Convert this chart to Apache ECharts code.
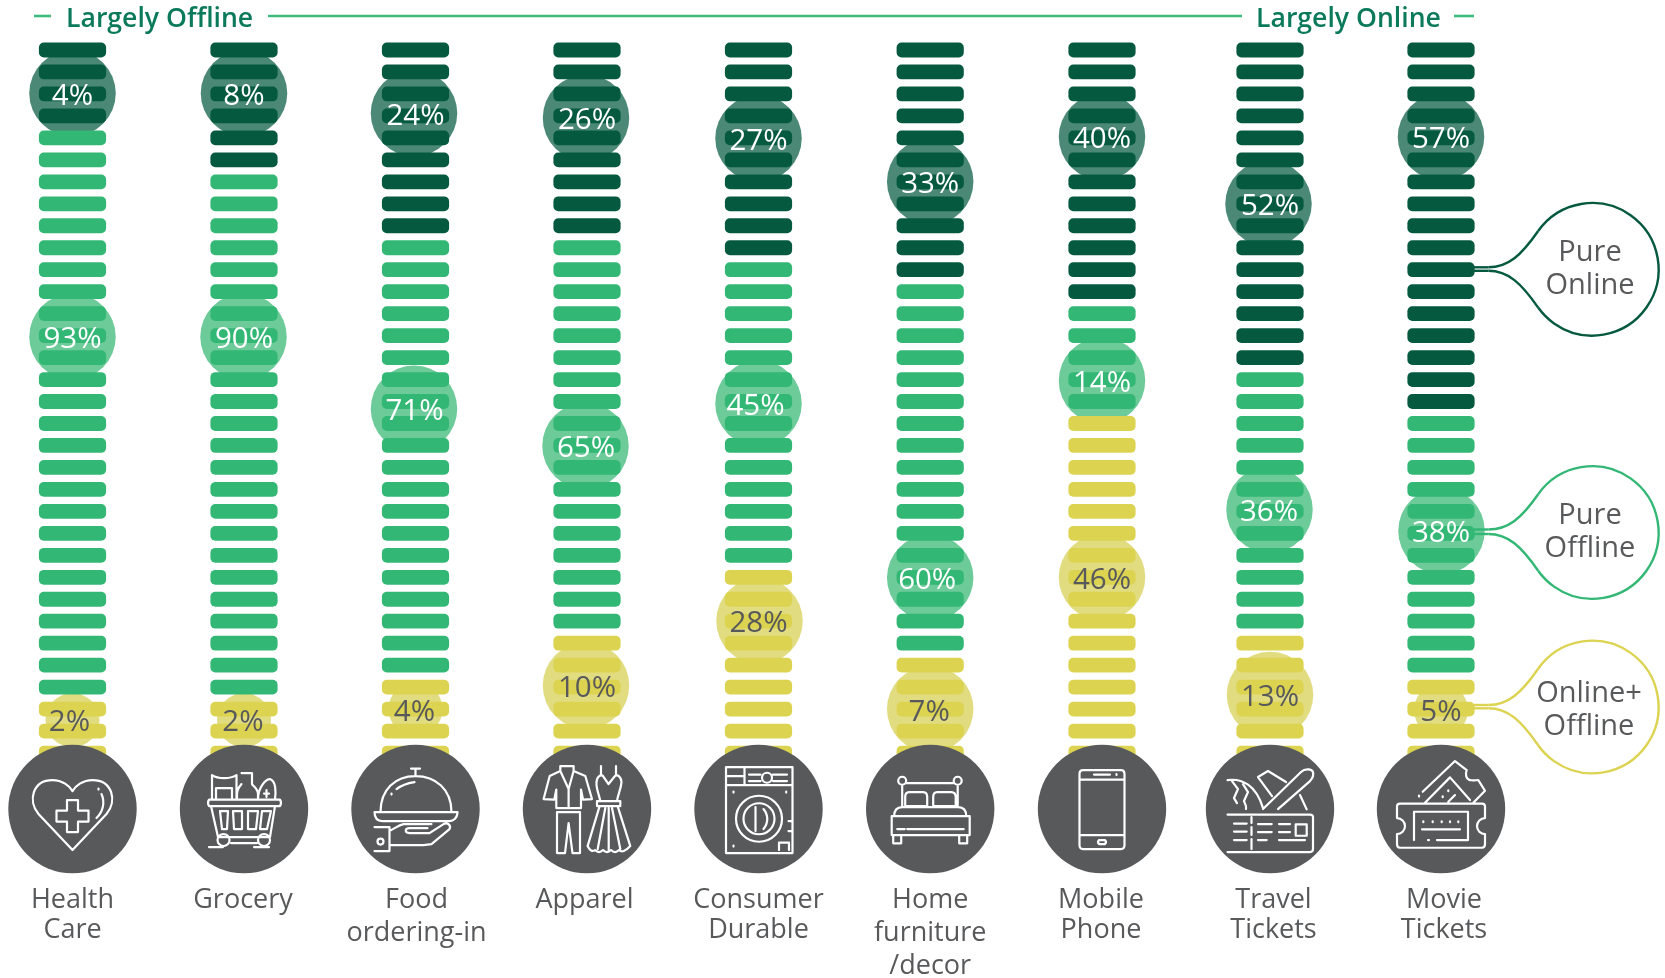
<!DOCTYPE html>
<html>
<head>
<meta charset="utf-8">
<style>html,body{margin:0;padding:0;background:#fff}#c{width:1665px;height:978px}</style>
<script src="https://cdn.jsdelivr.net/npm/echarts@6/dist/echarts.min.js"></script>
</head>
<body>
<div id="c"></div>
<script>
// ---- data ----
const categories = ['Health\nCare','Grocery','Food\nordering-in','Apparel','Consumer\nDurable','Home\nfurniture\n/decor','Mobile\nPhone','Travel\nTickets','Movie\nTickets'];
// share of respondents (%)
const pureOnlinePct  = [4, 8, 24, 26, 27, 33, 40, 52, 57];
const pureOfflinePct = [93, 90, 71, 65, 45, 60, 14, 36, 38];
const bothPct        = [2, 2, 4, 10, 28, 7, 46, 13, 5];
// number of stacked dashes of each kind per column
const onlineDashes  = [4, 6, 9, 9, 10, 11, 12, 15, 17];
const offlineDashes = [26, 24, 20, 18, 14, 17, 5, 12, 12];
const bothDashes    = [3, 3, 4, 6, 9, 5, 16, 6, 4];
// bubble centre, measured in dash rows from the top
const onlineBubbleRow  = [1.97, 1.97, 2.88, 3.09, 4.02, 5.99, 3.96, 7.0, 3.96];
const offlineBubbleRow = [13.05, 13.05, 16.33, 18.02, 16.09, 24.02, 15.05, 20.92, 21.89];
const bothBubbleRow    = [30.5, 30.5, 30.0, 28.93, 25.99, 30.0, 24.0, 29.36, 30.04];

// ---- styling / layout ----
const DARK='#04593f', GREEN='#32b775', YELLOW='#dcd351', GREY='#58595b', HEAD='#0a7a5b', RULE='#3dbb7e';
const BUB = {online:'#4b8875', offline:'#6dca99', both:'#e2dc81'};
const FONT = '"Open Sans", "Noto Sans", sans-serif';
const ROW_PX = 21.97, FIRST_ROW_Y = 50, BAND = 171, FIRST_X = 72.5;
const columnNudge = [0, .5, 1, 1.5, 2, 2.7, 3.5, .5, .5];
const bubbleNudgeOnline = [0, 0, -1.5, -1, 0, 0, 0, -1.5, 0];
const bubbleNudgeOffline = [0, -.5, -1.5, -1.5, 0, 0, 0, -.5, .5];
const bubbleNudgeBoth = [0, 0, 0, -1, 1, 0, 0, 0, 0];
const labelNudgeOffline = [0, 0, -1, -1, -3, -3, 0, -1, 0];
const labelNudgeBoth = [-3, -1, -1, 0, 0, -1, 0, 0, 0];
const catLabelNudge = [0, -1, 1, -2.5, 0, 0, -1, 3.5, 3];
const catLineHeight = [30, 30, 33, 30, 30, 33, 30, 30, 30];
const SMALL_BUBBLE = 54, BIG_BUBBLE = 86.5;
const smallBoth = [1, 1, 1, 0, 0, 0, 0, 0, 1];

// line icons, 100x100 box centred on each disc; the two leading moves pin the box
const BOX = 'M0 0M100 100';
const iconPaths = [
 // heart
 BOX+'M50 91L16 55C5 42 10 21 30 21C40 21 47 27 50 32C53 27 60 21 70 21C90 21 95 42 84 55ZM44.5 41H55.5V51.5H66V62.5H55.5V73H44.5V62.5H34V51.5H44.5ZM79 35C83 44 80 53 74 59M76 29.5V30.5',
 // basket
 BOX+'M15 40.5H86Q88 43.5 86 47H15Q13 43.5 15 40.5ZM17 47L24 78H76L81 47M26 52H34L33 70H28ZM39 52H48V70H40ZM54 52H64L62 70H54ZM68 52H77L73 70H66ZM35.5 81A6 6 0 1 1 23.5 81A6 6 0 1 1 35.5 81ZM76 81A6 6 0 1 1 64 81A6 6 0 1 1 76 81ZM37 84H63M15 88H29M60 88H75M18 40V16C24 20 36 20 42.5 16V40M22 40V29H38V40M47.5 14H58V25C60 28 64 30 64 35V40M47.5 25C45 28 43 30 43 35V40M64 40C64 28 72 20 76 20C82 22 82 33 81 40M72.5 31V38M70 34.5H75',
 // cloche on hand
 BOX+'M45.5 9.5H54.5M50 9.5V17M15 53C15 30 30 17 50 17C70 17 86 30 86 53M31 30C36 26 42 24 49 23M26 34.5V35.5M9 53H92C92 59 88 62 84 62H17C12 62 9 59 9 53ZM9 68H24V92H9M18 82.5A3 3 0 1 1 12 82.5A3 3 0 1 1 18 82.5ZM24 72C30 69 33 66 38 65H66M24 86H58L66 85L84 70C86 66 82 63 78 65L64 74H44C39 74 39 69 44 69H62',
 // jacket, trousers, dress
 BOX+'M23.3 7H36.6V12L48.3 17L55 40L46 40.5L44 30.5V49H19.3V30.5L17.3 40.5L6.6 40L12.7 17L23.3 12ZM23.3 12L31.6 30L36.6 12M31.6 30V49M20 53H43V94H35.5L31.6 64L28 94H20ZM64 7V15.5M79 7V15.5M59.5 23C60 17 64 15 66 17L71.5 25L78 17C80 15 84 17 84.5 23C84 30 81 35 80 42H63.3C62 35 59 30 59.5 23ZM60 42H83.3V47H60ZM62.6 47L50.6 87Q54 94 58 91Q62 95 66 91Q70 95 74 91Q78 95 82 91Q86 95 93.3 87L80.6 47M68.3 49L60.7 90M71.7 49V91M75 49L83.3 90',
 // washing machine
 BOX+'M17.5 8H84V94H17.5ZM17.5 26H84M36 8V26M17.5 17H36M63.5 18.7A5 5 0 1 1 53.5 18.7A5 5 0 1 1 63.5 18.7ZM40.5 15.5H52M40.5 22H52M64.5 15.5H78.5M64.5 22H78.5M73.5 59.7A23 23 0 1 1 27.5 59.7A23 23 0 1 1 73.5 59.7ZM66 59.7A15.5 15.5 0 1 1 35 59.7A15.5 15.5 0 1 1 66 59.7ZM47 48V72M55 50C60 56 60 64 55 70M25 32.5V33.5M77.7 32.5V33.5M25 86.5V87.5M70.5 91V83.5H80.5V91M84 62H80M84 72H80',
 // bed
 BOX+'M26 21.7A4 4 0 1 1 18 21.7A4 4 0 1 1 26 21.7ZM81.5 21.7A4 4 0 1 1 73.5 21.7A4 4 0 1 1 81.5 21.7ZM26 24H73.5M22 26V48M77.5 26V48M29 33H43Q47 33 47 38V47H25V38Q25 33 29 33ZM57 33H71Q75.5 33 75.5 38V47H53V38Q53 33 57 33ZM14 57C14 51 17 48 22 48H78C83 48 86 51 86 57M11.5 57H89.5V76H11.5ZM17 70H24.5M27 70H83.5M13 76V84.3H21V76M79 76V84.3H87V76',
 // phone
 BOX+'M31 11H69Q72.5 11 72.5 15V86Q72.5 90 69 90H31Q27.5 90 27.5 86V15Q27.5 11 31 11ZM27.5 20.5H72.5M27.5 76H72.5M42 15.5H58M64.5 15V16M47 81H53Q55 83 53 85H47Q45 83 47 81Z',
 // plane and ticket
 BOX+'M7.5 55.5H90Q93 55.5 93 58V90Q93 93 90 93H7.5M31.5 58V64M31.5 68V76M31.5 80V90M14 64.5H26.7M14 72.5H26.7M14 81H26.7M38 65H51.7M59 65H70M38 73H51.7M59 73H70M38 81H46.7M59 81H85M75.7 65.3H86.7V76.7H75.7ZM43 50L81 13C85 9 92 10 93 13C94 17 92 20 90 22L58 50M66 23L48 12L38 18L52 37M80 36L86.7 50.3M59 49L65 44M7.5 21C22 19 36 26 43 49M12 22L18 30L14 39L17 44M23 25L28 33L24 42L26 47V50',
 // cinema tickets
 BOX+'M9 44.5H91Q94 44.5 94 47.5V59A8 8 0 0 0 94 75V85Q94 88.7 91 88.7H9Q6 88.7 6 85V75A8 8 0 0 0 6 59V47.5Q6 44.5 9 44.5ZM23 81V52.7H77V81H46M38 81H37M32.3 62.2V63.2M41.7 62.2V63.2M50.7 62.2V63.2M59 62.2V63.2M67.3 62.2V63.2M31 70.3H69M31.7 32.7L64 2L75.7 11C74 15 75 20 79 21C82 22 85 21 87.3 21L94 31.7L82.3 43.7M28 36.5V37.5M34 43.7L59 18.3L79 41M57.3 31.2V32.2M51.7 37.2V38.2M64 36L57.3 42.7'
];

// ---- helpers ----
const rowsOf = (i) => [
  ...Array(onlineDashes[i]).fill(DARK),
  ...Array(offlineDashes[i]).fill(GREEN),
  ...Array(bothDashes[i]).fill(YELLOW)
];
const dashData = [];
categories.forEach((c, i) => rowsOf(i).forEach((col, r) => dashData.push([i, r, col])));

const bubbleData = [];
categories.forEach((c, i) => {
  bubbleData.push([i, onlineBubbleRow[i], pureOnlinePct[i], 'online', BIG_BUBBLE, 0, bubbleNudgeOnline[i]]);
  bubbleData.push([i, offlineBubbleRow[i], pureOfflinePct[i], 'offline', BIG_BUBBLE, labelNudgeOffline[i], bubbleNudgeOffline[i]]);
  bubbleData.push([i, bothBubbleRow[i], bothPct[i], 'both', smallBoth[i] ? SMALL_BUBBLE : BIG_BUBBLE, labelNudgeBoth[i], bubbleNudgeBoth[i]]);
});
const discRow = 34.55, catLabelRow = 38.6;

const chart = echarts.init(document.getElementById('c'), null, {renderer:'canvas'});

function callout(cy, t1, t2, color, text, tx, ty) {
  const cx = 1592.3, r = 66.3, a = 144.75 * Math.PI / 180;
  const jx = cx + r * Math.cos(a), djy = r * Math.sin(a);
  const st = {stroke: color, lineWidth: 2.4, fill: 'none'};
  return [
    {type:'arc', shape:{cx, cy, r, startAngle:-a, endAngle:a, clockwise:true}, style:st, silent:true, z:20},
    {type:'line', shape:{x1:1474, y1:cy+t1, x2:cx-104, y2:cy+t1}, style:st, silent:true, z:20},
    {type:'line', shape:{x1:1474, y1:cy+t2, x2:cx-104, y2:cy+t2}, style:st, silent:true, z:20},
    {type:'bezierCurve', shape:{x1:cx-104, y1:cy+t1, cpx1:cx-84, cpy1:cy+t1, cpx2:cx-71, cpy2:cy-14, x2:jx, y2:cy-djy}, style:st, silent:true, z:20},
    {type:'bezierCurve', shape:{x1:cx-104, y1:cy+t2, cpx1:cx-84, cpy1:cy+t2, cpx2:cx-71, cpy2:cy+14, x2:jx, y2:cy+djy}, style:st, silent:true, z:20},
    {type:'text', x:tx, y:ty, silent:true, z:21, style:{text, fill:GREY, font:'29px '+FONT, textAlign:'center', textVerticalAlign:'middle', lineHeight:33}}
  ];
}
const rule = (x1, x2) => ({type:'line', shape:{x1, y1:16, x2, y2:16}, style:{stroke:RULE, lineWidth:2.6}, silent:true, z:20});
const head = (x, text) => ({type:'text', x, y:19, silent:true, z:21, style:{text, fill:HEAD, font:'600 26.6px '+FONT, textAlign:'left', textVerticalAlign:'middle'}});

const px = (api, i, row) => { const p = api.coord([i, row]); return [p[0] + columnNudge[i], p[1]]; };

const option = {
  animation: false,
  backgroundColor: '#fff',
  grid: {left: FIRST_X - BAND/2, top: 0, width: BAND*9, height: 978, containLabel:false, outerBoundsMode:'none'},
  xAxis: {type:'category', data:categories, show:false},
  yAxis: {type:'value', inverse:true, show:false, min:-FIRST_ROW_Y/ROW_PX, max:(978-FIRST_ROW_Y)/ROW_PX},
  tooltip: {show:false},
  graphic: {elements: [
    rule(34, 51), rule(268, 1242), rule(1454, 1474),
    head(66, 'Largely Offline'), head(1256, 'Largely Online'),
    ...callout(269.3, -2, 1.5, DARK, 'Pure\nOnline', 1590, 269),
    ...callout(532.5, -3, 1.5, GREEN, 'Pure\nOffline', 1590, 532),
    ...callout(707, -2, 1.3, YELLOW, 'Online+\nOffline', 1589, 710.5)
  ]},
  series: [
    {type:'custom', name:'bubbles', coordinateSystem:'cartesian2d', z:2, silent:true, clip:false,
     data:bubbleData, encode:{x:0,y:1},
     renderItem:(p, api) => {
       const d = bubbleData[p.dataIndex], c = px(api, d[0], d[1]);
       return {type:'circle', shape:{cx:c[0]+d[6], cy:c[1], r:d[4]/2}, style:{fill:BUB[d[3]]}};
     }},
    {type:'custom', name:'dashes', coordinateSystem:'cartesian2d', z:3, silent:true, clip:false,
     data:dashData, encode:{x:0,y:1},
     renderItem:(p, api) => {
       const d = dashData[p.dataIndex], c = px(api, d[0], d[1]);
       return {type:'rect', shape:{x:c[0]-33.6, y:c[1]-7.4, width:67.2, height:14.8, r:5}, style:{fill:d[2]}};
     }},
    {type:'custom', name:'bubble labels', coordinateSystem:'cartesian2d', z:4, silent:true, clip:false,
     data:bubbleData, encode:{x:0,y:1},
     renderItem:(p, api) => {
       const d = bubbleData[p.dataIndex], c = px(api, d[0], d[1]);
       return {type:'text', x:c[0]+d[5], y:c[1]+3, style:{text:d[2]+'%', fill:d[3]==='both'?GREY:'#fff', font:'29.5px '+FONT, textAlign:'center', textVerticalAlign:'middle'}};
     }},
    {type:'custom', name:'discs', coordinateSystem:'cartesian2d', z:5, silent:true, clip:false,
     data:categories.map((c, i) => [i, discRow]), encode:{x:0,y:1},
     renderItem:(p, api) => {
       const c = px(api, p.dataIndex, discRow);
       return {type:'circle', shape:{cx:c[0], cy:c[1], r:64.2}, style:{fill:GREY}};
     }},
    {type:'custom', name:'icons', coordinateSystem:'cartesian2d', z:6, silent:true, clip:false,
     data:categories.map((c, i) => [i, discRow]), encode:{x:0,y:1},
     renderItem:(p, api) => {
       const c = px(api, p.dataIndex, discRow);
       return {type:'path', shape:{pathData:iconPaths[p.dataIndex], layout:'cover', x:c[0]-50, y:c[1]-50, width:100, height:100},
               style:{fill:'none', stroke:'#fff', lineWidth:2.2, lineJoin:'round', lineCap:'round'}};
     }},
    {type:'custom', name:'category labels', coordinateSystem:'cartesian2d', z:6, silent:true, clip:false,
     data:categories.map((c, i) => [i, catLabelRow]), encode:{x:0,y:1},
     renderItem:(p, api) => {
       const i = p.dataIndex, c = px(api, i, catLabelRow);
       return {type:'text', x:c[0]+catLabelNudge[i], y:885.5-(catLineHeight[i]-30)/2-0.5, style:{text:categories[i], fill:GREY, font:'27px '+FONT, textAlign:'center', textVerticalAlign:'top', lineHeight:catLineHeight[i]}};
     }}
  ]
};
chart.setOption(option);
</script>
</body>
</html>
